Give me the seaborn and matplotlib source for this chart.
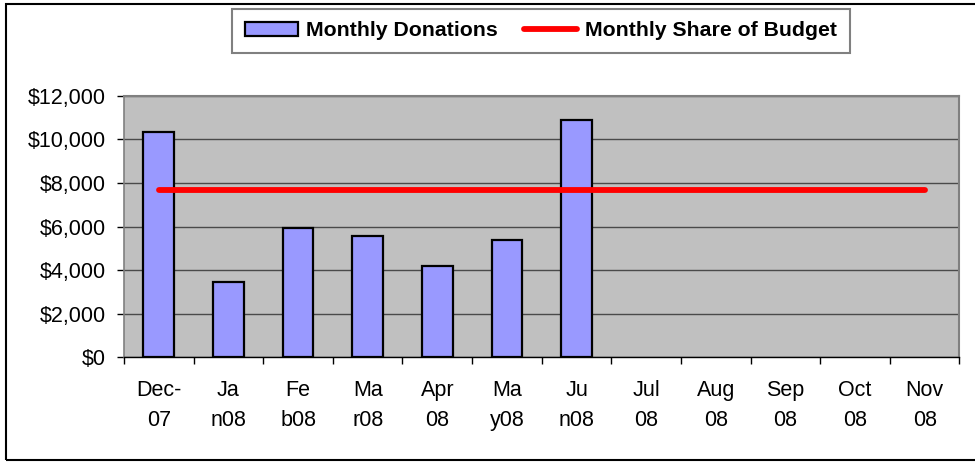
import numpy as np
import pandas as pd
import seaborn as sns
import matplotlib.pyplot as plt
from matplotlib.patches import Patch, Rectangle
from matplotlib.lines import Line2D
from matplotlib.ticker import FuncFormatter, FixedLocator

MONTHS = ["Dec-07", "Jan-08", "Feb-08", "Mar-08", "Apr-08", "May-08",
          "Jun-08", "Jul-08", "Aug-08", "Sep-08", "Oct-08", "Nov-08"]
# wrapped the way the original spreadsheet squeezed them
TICK_LABELS = ["Dec-\n07", "Ja\nn08", "Fe\nb08", "Ma\nr08", "Apr\n08", "Ma\ny08",
               "Ju\nn08", "Jul\n08", "Aug\n08", "Sep\n08", "Oct\n08", "Nov\n08"]
DONATION_MONTHS = MONTHS[:7]
DONATIONS = [10350, 3450, 5950, 5580, 4200, 5380, 10890]
BUDGET_SHARE = [7680] * 12

sns.set_theme(style="white")
plt.rcParams["font.family"] = ["Liberation Sans", "DejaVu Sans"]
plt.rcParams["text.color"] = "black"
plt.rcParams["xtick.color"] = "black"
plt.rcParams["ytick.color"] = "black"

fig = plt.figure(figsize=(9.75, 4.62), dpi=100)
W, H = 975, 462
ax = fig.add_axes([124 / W, (H - 357.3) / H, (959.5 - 124) / W, (357.3 - 95.7) / H])
ax.set_facecolor("#C0C0C0")

df = pd.DataFrame({"month": DONATION_MONTHS, "donations": DONATIONS})
sns.barplot(data=df, x="month", y="donations", order=MONTHS, color="#9999FF",
            saturation=1, edgecolor="black", linewidth=1.6, width=0.44, ax=ax, zorder=3)
sns.lineplot(x=np.arange(len(MONTHS)), y=BUDGET_SHARE, color="#FF0000", linewidth=4.2,
             ax=ax, zorder=4)

ax.set_xlim(-0.5, len(MONTHS) - 0.5)
ax.set_ylim(0, 12000)
ax.set_yticks(range(0, 12001, 2000))
ax.yaxis.set_major_formatter(FuncFormatter(lambda v, p: f"${v:,.0f}"))
ax.grid(axis="y", color="#4a4a4a", linewidth=1.0)
ax.grid(axis="x", visible=False)
ax.set_axisbelow(True)

ax.set_xticks(np.arange(len(MONTHS)))
ax.set_xticklabels(TICK_LABELS, fontsize=15.5, linespacing=1.6, color="black")
ax.xaxis.set_minor_locator(FixedLocator(np.arange(len(MONTHS) + 1) - 0.5))
ax.tick_params(axis="x", which="major", length=0, pad=16)
ax.tick_params(axis="x", which="minor", length=5, width=1, color="black", bottom=True)
ax.tick_params(axis="y", length=5, width=1, color="black", labelcolor="black",
               left=True, pad=8, labelsize=15.5)
ax.set_xlabel("")
ax.set_ylabel("")

for side in ["top", "right"]:
    ax.spines[side].set_color("#808080")
    ax.spines[side].set_linewidth(1.5)
ax.spines["left"].set_color("#808080")
ax.spines["left"].set_linewidth(1.2)
ax.spines["bottom"].set_color("black")
ax.spines["bottom"].set_linewidth(1.0)

handles = [
    Patch(facecolor="#9999FF", edgecolor="black", linewidth=1.6, label="Monthly Donations"),
    Line2D([], [], color="#FF0000", linewidth=4.2, label="Monthly Share of Budget"),
]
leg = fig.legend(handles=handles, loc="center", bbox_to_anchor=(541 / W, 1 - 31 / H),
                 ncol=2, frameon=True, fancybox=False, framealpha=1,
                 prop={"weight": "bold", "size": 15.3}, handlelength=2.5, handleheight=0.6,
                 handletextpad=0.4, columnspacing=1.2, borderpad=0.6, borderaxespad=0)
leg.get_frame().set_edgecolor("#808080")
leg.get_frame().set_linewidth(1.5)
for t in leg.get_texts():
    t.set_color("black")

# outer chart frame (right edge is cut off in the original)
fig.patches.append(Rectangle((5.7 / W, 1.7 / H), 1.05, (458 - 1.7) / H,
                             transform=fig.transFigure, fill=False,
                             edgecolor="black", linewidth=1.5))

fig.savefig("out.png", dpi=100)
